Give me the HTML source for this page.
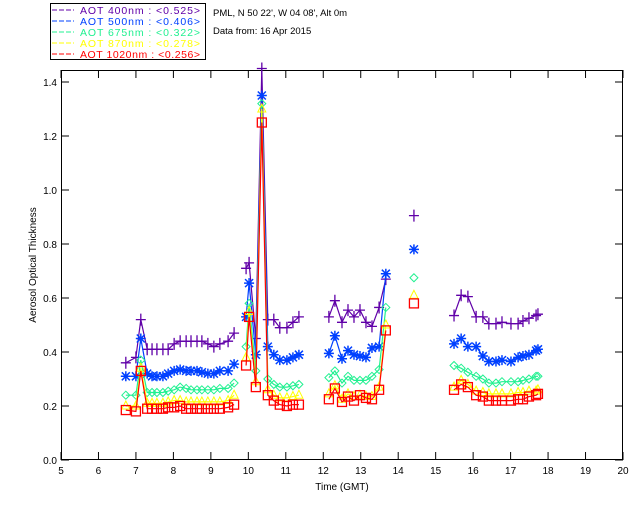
<!DOCTYPE html>
<html><head><meta charset="utf-8"><style>
body{margin:0;background:#fff;}
svg text{font-family:"Liberation Sans",sans-serif;font-size:10px;}
</style></head><body>
<svg id="c" width="640" height="512" viewBox="0 0 640 512">
<rect x="0" y="0" width="640" height="512" fill="#fff"/>
<g>
<rect x="50.5" y="3.5" width="155" height="56" fill="none" stroke="#000"/>
<g id="leg"></g>
</g>
<text x="213" y="16" style="font-size:9.5px">PML, N 50 22', W 04 08', Alt 0m</text>
<text x="213" y="34" style="font-size:9.5px">Data from: 16 Apr 2015</text>
<g id="axes"></g>
<g id="plot"></g>
<text x="342" y="490" text-anchor="middle">Time (GMT)</text>
<text x="0" y="0" transform="translate(36,265) rotate(-90)" text-anchor="middle">Aerosol Optical Thickness</text>
</svg>
<script>
const times=[6.73,7.00,7.13,7.30,7.43,7.56,7.72,7.86,8.02,8.18,8.34,8.47,8.63,8.76,8.92,9.08,9.24,9.46,9.62,null,
9.94,10.02,10.20,10.36,10.52,10.68,10.84,11.03,11.19,11.35,null,
12.15,12.31,12.50,12.66,12.82,12.98,13.14,13.30,13.49,13.67,null,
14.42,null,
15.49,15.68,15.86,16.08,16.26,16.42,16.61,16.77,17.01,17.20,17.33,17.49,17.68,17.73];
const aot400=[0.36,0.38,0.52,0.41,0.41,0.41,0.41,0.41,0.43,0.44,0.44,0.44,0.44,0.44,0.43,0.42,0.43,0.44,0.47,null,
0.71,0.73,0.45,1.45,0.52,0.52,0.49,0.49,0.51,0.53,null,
0.53,0.59,0.51,0.555,0.53,0.555,0.51,0.495,0.565,0.67,null,
0.905,null,
0.535,0.61,0.605,0.53,0.53,0.505,0.505,0.51,0.505,0.505,0.515,0.525,0.535,0.54];
const aot500=[0.31,0.31,0.45,0.32,0.31,0.31,0.31,0.32,0.33,0.335,0.33,0.33,0.33,0.325,0.32,0.32,0.33,0.33,0.355,null,
0.53,0.655,0.39,1.35,0.42,0.39,0.37,0.37,0.38,0.39,null,
0.395,0.46,0.375,0.405,0.39,0.385,0.38,0.415,0.42,0.69,null,
0.78,null,
0.43,0.45,0.42,0.42,0.385,0.365,0.365,0.37,0.365,0.38,0.385,0.39,0.405,0.41];
const aot675=[0.24,0.24,0.37,0.25,0.25,0.25,0.25,0.255,0.26,0.27,0.265,0.26,0.26,0.26,0.26,0.26,0.265,0.265,0.285,null,
0.42,0.58,0.33,1.32,0.3,0.28,0.27,0.27,0.275,0.28,null,
0.305,0.33,0.285,0.31,0.295,0.295,0.295,0.31,0.335,0.565,null,
0.675,null,
0.35,0.34,0.325,0.31,0.30,0.285,0.285,0.29,0.29,0.29,0.295,0.30,0.31,0.31];
const aot870=[0.2,0.2,0.34,0.21,0.21,0.21,0.21,0.215,0.22,0.22,0.215,0.215,0.215,0.215,0.215,0.215,0.215,0.22,0.24,null,
0.38,0.55,0.29,1.3,0.26,0.24,0.23,0.23,0.235,0.24,null,
0.245,0.275,0.225,0.245,0.235,0.24,0.235,0.235,0.27,0.5,null,
0.61,null,
0.27,0.295,0.28,0.255,0.25,0.245,0.245,0.245,0.245,0.25,0.25,0.255,0.255,0.26];
const aot1020=[0.185,0.18,0.33,0.19,0.19,0.19,0.19,0.195,0.195,0.2,0.19,0.19,0.19,0.19,0.19,0.19,0.19,0.195,0.205,null,
0.35,0.53,0.27,1.25,0.24,0.22,0.205,0.2,0.205,0.205,null,
0.225,0.265,0.215,0.235,0.22,0.24,0.23,0.225,0.26,0.48,null,
0.58,null,
0.26,0.28,0.27,0.24,0.235,0.22,0.22,0.22,0.22,0.225,0.225,0.235,0.24,0.245];
const xTicks=[5,6,7,8,9,10,11,12,13,14,15,16,17,18,19,20];
const yTicks=[0.0,0.2,0.4,0.6,0.8,1.0,1.2,1.4];
const legendLabels=["AOT  400nm : <0.525>","AOT  500nm : <0.406>","AOT  675nm : <0.322>","AOT  870nm : <0.278>","AOT 1020nm : <0.256>"];

const NS="http://www.w3.org/2000/svg";
const L=61,R=623,T=70,B=460;
const xs=t=>L+(t-5)*(R-L)/15;
const ys=v=>B-v*270;
function mk(tag,attrs,parent){const e=document.createElementNS(NS,tag);for(const k in attrs)e.setAttribute(k,attrs[k]);parent.appendChild(e);return e;}
const axes=document.getElementById('axes'),plot=document.getElementById('plot'),leg=document.getElementById('leg');
const frame=mk('rect',{x:L+0.5,y:T+0.5,width:R-L-1,height:B-T-1,fill:'none',stroke:'#000'},axes);


xTicks.forEach(t=>{const x=xs(t);
 mk('line',{x1:x,x2:x,y1:B,y2:B-8,stroke:'#000'},axes);
 mk('line',{x1:x,x2:x,y1:T,y2:T+8,stroke:'#000'},axes);
 const tx=mk('text',{x:x,y:B+14,'text-anchor':'middle'},axes);tx.textContent=t;
 
 
});
yTicks.forEach(v=>{const y=ys(v);
 mk('line',{x1:L,x2:L+8,y1:y,y2:y,stroke:'#000'},axes);
 mk('line',{x1:R-8,x2:R,y1:y,y2:y,stroke:'#000'},axes);
 const tx=mk('text',{x:L-4,y:y+4,'text-anchor':'end'},axes);tx.textContent=v.toFixed(1);
 
 
});
const series=[[aot400,'#6000a8','plus'],[aot500,'#0040ff','star'],[aot675,'#20f090','diamond'],[aot870,'#ffff00','tri'],[aot1020,'#ff0000','square']];
const names=['aot-400nm','aot-500nm','aot-675nm','aot-870nm','aot-1020nm'];
function marker(kind,x,y,c,g){
 if(kind==='plus'){mk('path',{d:`M${x-5} ${y}H${x+5}M${x} ${y-6}V${y+6}`,stroke:c,'stroke-width':1.3,fill:'none'},g);}
 else if(kind==='star'){mk('path',{d:`M${x-5} ${y}H${x+5}M${x} ${y-5}V${y+5}M${x-4} ${y-4}L${x+4} ${y+4}M${x-4} ${y+4}L${x+4} ${y-4}`,stroke:c,'stroke-width':1.5,fill:'none'},g);}
 else if(kind==='diamond'){mk('path',{d:`M${x} ${y-4}L${x+4} ${y}L${x} ${y+4}L${x-4} ${y}Z`,stroke:c,fill:'none'},g);}
 else if(kind==='tri'){mk('path',{d:`M${x} ${y-5}L${x+4} ${y+3}L${x-4} ${y+3}Z`,stroke:c,fill:'none'},g);}
 else {mk('rect',{x:x-4.5,y:y-4.5,width:9,height:9,stroke:c,fill:'none','stroke-width':1.3},g);}
}
series.forEach((s,i)=>{
 const g=mk('g',{},plot);
 
 
 let d='',pen=false;
 s[0].forEach((v,j)=>{const t=times[j];
  if(v===null||t===null){pen=false;return;}
  d+=(pen?'L':'M')+xs(t).toFixed(1)+' '+ys(v).toFixed(1)+' ';pen=true;});
 mk('path',{d:d,stroke:s[1],fill:'none','stroke-width':1.2},g);
 s[0].forEach((v,j)=>{const t=times[j];if(v===null||t===null)return;marker(s[2],xs(t),ys(v),s[1],g);});
 const ly=14+i*11;
 const le=mk('g',{},leg);
 
 
 mk('line',{x1:52,x2:74,y1:ly-4,y2:ly-4,stroke:s[1],'stroke-dasharray':'5,2'},le);
 const tx=mk('text',{x:80,y:ly,fill:s[1],'xml:space':'preserve',textLength:120,lengthAdjust:'spacing',style:'font-size:10.5px'},le);tx.textContent=legendLabels[i];
});
</script>
</body></html>
